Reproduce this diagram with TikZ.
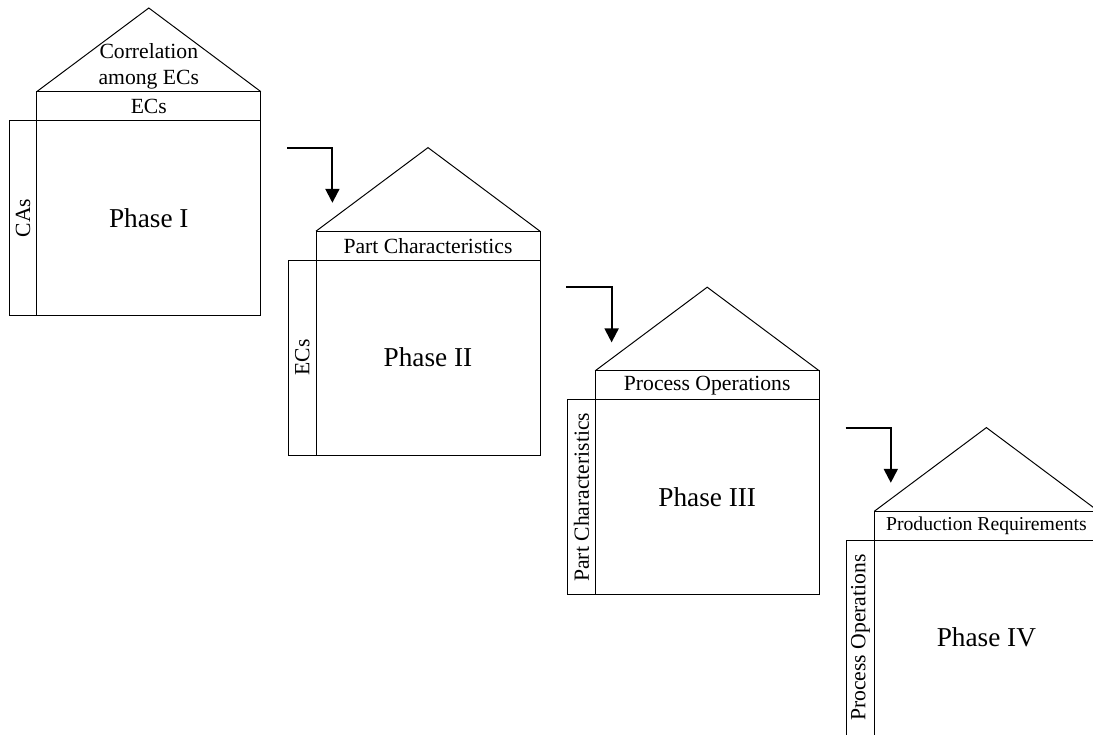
\documentclass[tikz,border=0pt]{standalone}
\usepackage{fontspec}
\setmainfont{Liberation Serif}
\usetikzlibrary{arrows.meta,positioning}
\tikzset{
  frm/.style={draw=black,line width=.7pt,inner sep=0pt,outer sep=0pt},
  hdr/.style={frm,minimum width=5.6cm,minimum height=.72cm},
  body/.style={frm,minimum width=5.6cm,minimum height=4.88cm,font=\fontsize{19.4}{23}\selectfont},
  side/.style={frm,rotate=90,minimum width=4.88cm,minimum height=.69cm,font=\fontsize{15.4}{18.5}\selectfont},
  roof/.style={line width=.7pt,line join=miter},
  lbl/.style={align=center,inner sep=0pt,font=\fontsize{15.4}{18.5}\selectfont},
  arr/.style={-{Triangle[length=3.5mm,width=3.5mm]},line width=1.4pt},
}
\begin{document}
\begin{tikzpicture}
  \path[use as bounding box,clip] (0,0) rectangle (27.325,18.35);
  \foreach \k/\x/\y/\hf/\top/\lft/\ph in {1/0.92/16.06/15.4/ECs/CAs/I,
      2/7.90/12.57/15.4/Part Characteristics/ECs/II,
      3/14.88/9.08/15.4/Process Operations/Part Characteristics/III,
      4/21.86/5.57/14/Production Requirements/Process Operations/IV}{
    \node[hdr,font=\fontsize{\hf}{\hf}\selectfont] (hdr\k) at (\x+2.8,\y-0.36) {\top};
    \node[body,below=0pt of hdr\k] (body\k) {Phase \ph};
    \node[side] (side\k) at (\x-0.345,\y-3.16) {\lft};
    \draw[roof] (hdr\k.north west) -- ++(2.8,2.09) coordinate (apex\k) -- (hdr\k.north east);
  }
  \node[lbl] (corr) at (3.72,16.68) {Correlation\\among ECs};
  % arrows between the phases
  \foreach \k/\x/\y in {2/7.90/12.57,3/14.88/9.08,4/21.86/5.57}{
    \coordinate (s\k) at (\x-0.72,\y+2.09);
    \coordinate (t\k) at (\x+0.41,\y+0.71);
    \draw[arr] (s\k) -| (t\k);
  }
\end{tikzpicture}
\end{document}
